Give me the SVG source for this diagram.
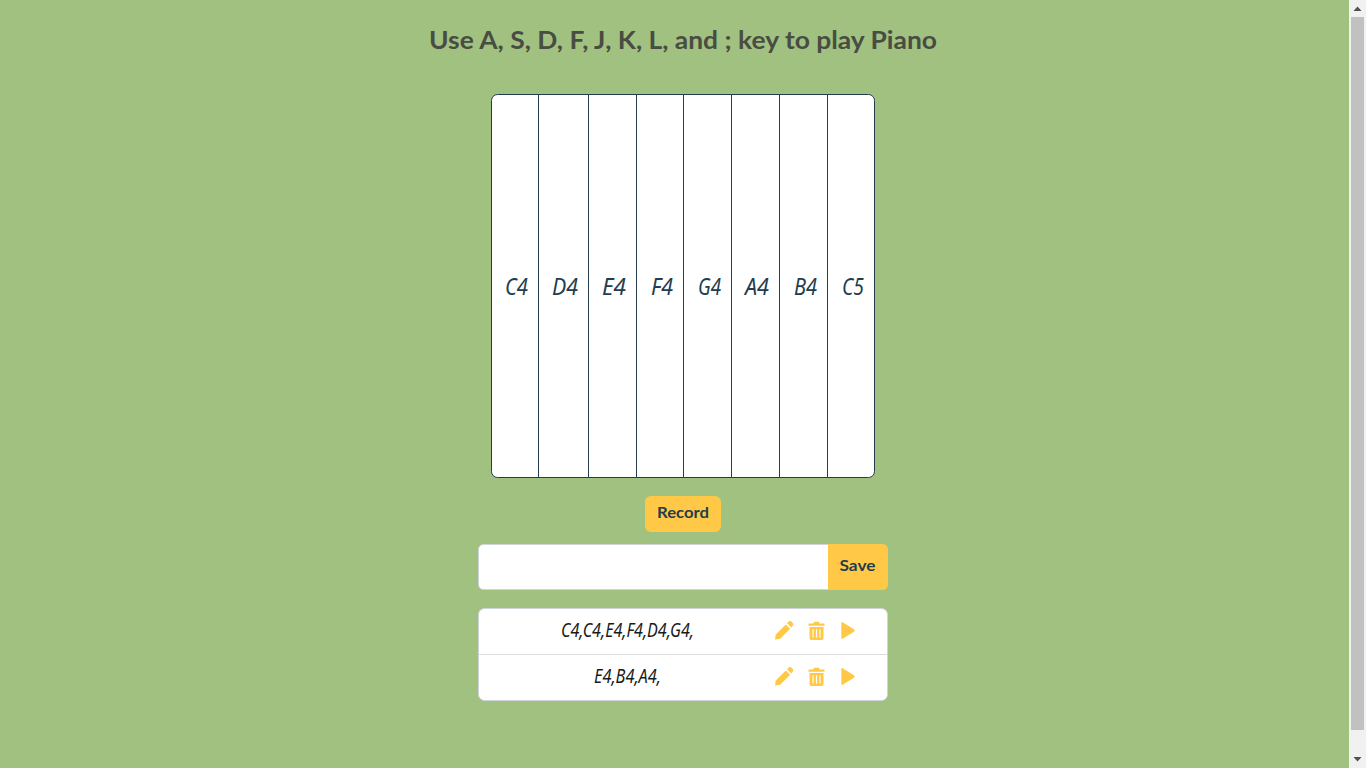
<svg xmlns="http://www.w3.org/2000/svg" width="1366" height="768" viewBox="0 0 1366 768">
<style>
.title{font:700 25px "Lato","Liberation Sans",sans-serif;fill:#494c42}
.btn{font:700 16px "Lato","Liberation Sans",sans-serif;fill:#233d4d;text-anchor:middle}
.note{font:italic 400 23px "Noto Sans","Liberation Sans",sans-serif;fill:#233d4d}
.seq{font:italic 400 19px "Noto Sans","Liberation Sans",sans-serif;fill:#1a1a1a}
.div{stroke:#233d4d;stroke-width:1;fill:none}
.ico{fill:#ffc947}
</style>
<defs>
<g id="pencil"><path d="M-9 9-8.200 3.900 1.800-6.100 6.200-1.700-3.800 8.200Z"/><path d="M3-7.300 5-9.300Q6-10 7-9.300L9-7.300Q9.700-6.300 9-5.300L7.400-2.900Z"/></g>
<g id="trash"><path d="M-8-7.500H-3.200L-2.400-9.300H2.400L3.200-7.500H8V-5.300H-8Z"/><path fill-rule="evenodd" d="M-7-4H7V7.200Q7 9 5.300 9H-5.300Q-7 9-7 7.200ZM-4-1.800V6.600H-2.900V-1.800ZM-.6-1.800V6.600H.6V-1.800ZM2.900-1.800V6.600H4V-1.800Z"/></g>
<path id="play" d="M-6.700-7.600Q-6.700-8.800-5.400-8.200L6-1.200Q7.200 0 6 1.200L-5.400 8.200Q-6.700 8.800-6.700 7.600Z"/>
</defs>
<rect width="1366" height="768" fill="#a1c181"/>
<g id="scrollbar">
<rect x="1349" width="17" height="768" fill="#f1f1f1"/>
<rect x="1351" y="17" width="13" height="713" fill="#c1c1c1"/>
<path d="M1357.500 6.500 1361.500 11H1353.500Z" fill="#505050"/>
<path d="M1353.500 757H1361.500L1357.500 761.500Z" fill="#505050"/>
</g>
<text id="title" class="title" x="429" y="49" textLength="508" lengthAdjust="spacingAndGlyphs">Use A, S, D, F, J, K, L, and ; key to play Piano</text>
<g id="piano">
<rect x="491.500" y="94.500" width="383" height="383" rx="6" fill="#fff" stroke="#233d4d"/>
</g>
<g id="connectors">
<path class="div" d="M538.500 95V477M588.500 95V477M636.500 95V477M683.500 95V477M731.500 95V477M779.500 95V477M827.500 95V477"/>
</g>
<g id="key-c4"><text class="note" x="505" y="295" textLength="23" lengthAdjust="spacingAndGlyphs">C4</text></g>
<g id="key-d4"><text class="note" x="552" y="295" textLength="26" lengthAdjust="spacingAndGlyphs">D4</text></g>
<g id="key-e4"><text class="note" x="602" y="295" textLength="24" lengthAdjust="spacingAndGlyphs">E4</text></g>
<g id="key-f4"><text class="note" x="651" y="295" textLength="22" lengthAdjust="spacingAndGlyphs">F4</text></g>
<g id="key-g4"><text class="note" x="698" y="295" textLength="23" lengthAdjust="spacingAndGlyphs">G4</text></g>
<g id="key-a4"><text class="note" x="745" y="295" textLength="24" lengthAdjust="spacingAndGlyphs">A4</text></g>
<g id="key-b4"><text class="note" x="794" y="295" textLength="23" lengthAdjust="spacingAndGlyphs">B4</text></g>
<g id="key-c5"><text class="note" x="842" y="295" textLength="22" lengthAdjust="spacingAndGlyphs">C5</text></g>
<g id="record"><rect x="645" y="496" width="76" height="36" rx="6" fill="#ffc947"/><text class="btn" x="683" y="518" textLength="52" lengthAdjust="spacingAndGlyphs">Record</text></g>
<g id="save-form">
<path d="M828.500 544.500H484Q478.500 544.500 478.500 550V584Q478.500 589.500 484 589.500H828.500Z" fill="#fff" stroke="#ced4da"/>
<path d="M828 544H882Q888 544 888 550V584Q888 590 882 590H828Z" fill="#ffc947"/>
<text class="btn" x="857.500" y="571" textLength="36" lengthAdjust="spacingAndGlyphs">Save</text>
</g>
<g id="list">
<rect x="478.500" y="608.500" width="409" height="92" rx="6" fill="#fff" stroke="#cfd4d8"/>
<path d="M479 654.500H887" stroke="#dcdcdc" fill="none"/>
</g>
<g id="row-1">
<text class="seq" x="561" y="637" textLength="133" lengthAdjust="spacingAndGlyphs">C4,C4,E4,F4,D4,G4,</text>
<use href="#pencil" class="ico" x="784" y="630.500"/><use href="#trash" class="ico" x="816.500" y="631"/><use href="#play" class="ico" x="848" y="630.500"/>
</g>
<g id="row-2">
<text class="seq" x="594" y="683" textLength="67" lengthAdjust="spacingAndGlyphs">E4,B4,A4,</text>
<use href="#pencil" class="ico" x="784" y="676.500"/><use href="#trash" class="ico" x="816.500" y="677"/><use href="#play" class="ico" x="848" y="676.500"/>
</g>
</svg>
